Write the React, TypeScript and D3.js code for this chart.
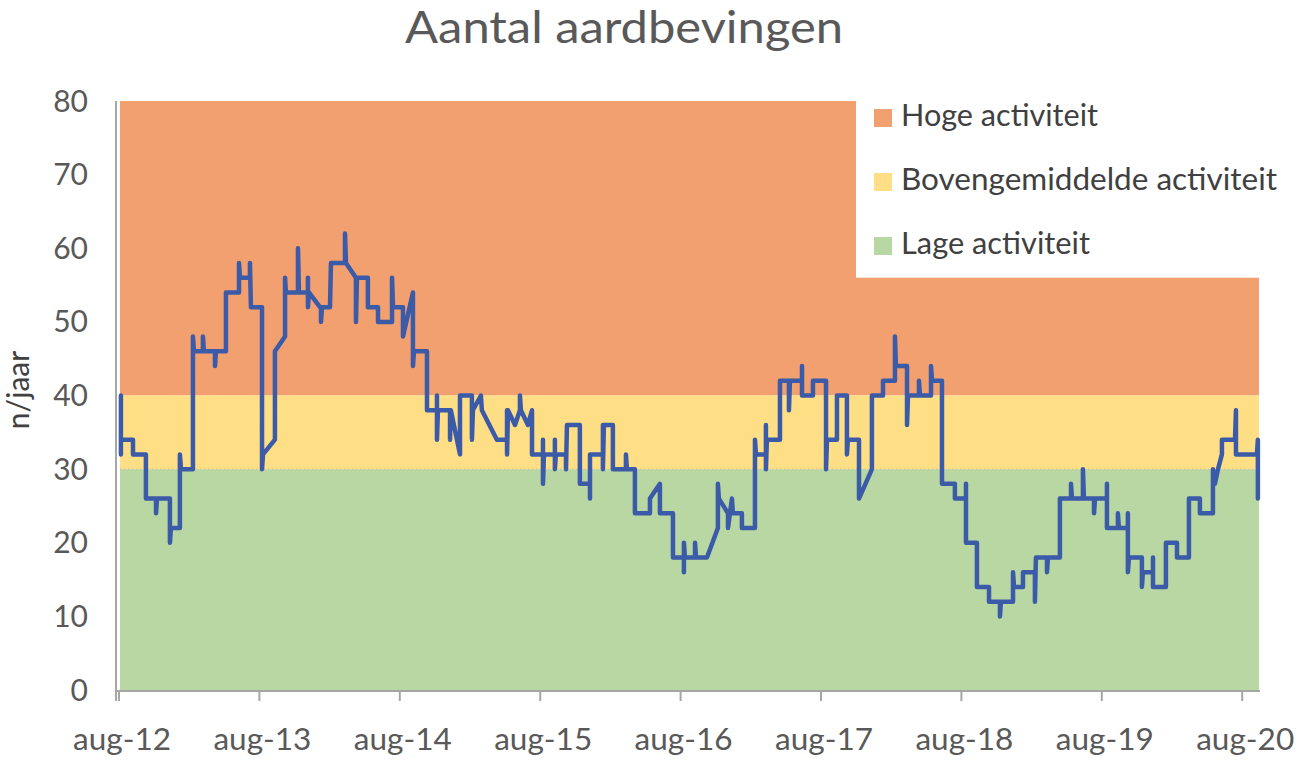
import React from 'react';
import * as d3 from 'd3';

// ---------- data ----------
const chartTitle = 'Aantal aardbevingen';
const yAxisTitle = 'n/jaar';
const yTickValues = [0, 10, 20, 30, 40, 50, 60, 70, 80];
const xTickYears = [2012, 2013, 2014, 2015, 2016, 2017, 2018, 2019, 2020];
const xTickLabels = ['aug-12', 'aug-13', 'aug-14', 'aug-15', 'aug-16', 'aug-17', 'aug-18', 'aug-19', 'aug-20'];

const bandNames = ['Hoge activiteit', 'Bovengemiddelde activiteit', 'Lage activiteit'];
const bandLower = [40, 30, 0];
const bandUpper = [80, 40, 30];

// time as decimal year, value = earthquakes per year
const timeYears = [
  2012.597, 2012.597, 2012.597, 2012.683, 2012.683, 2012.775, 2012.775, 2012.847, 2012.847, 2012.854,
  2012.946, 2012.946, 2012.953, 2013.017, 2013.017, 2013.025, 2013.110, 2013.110, 2013.117, 2013.181,
  2013.181, 2013.188, 2013.267, 2013.267, 2013.274, 2013.345, 2013.345, 2013.438, 2013.438, 2013.445,
  2013.516, 2013.516, 2013.523, 2013.602, 2013.602, 2013.609, 2013.694, 2013.694, 2013.766, 2013.766,
  2013.772, 2013.858, 2013.858, 2013.865, 2013.929, 2013.929, 2013.929, 2013.936, 2014.015, 2014.022,
  2014.022, 2014.029, 2014.086, 2014.093, 2014.193, 2014.193, 2014.200, 2014.271, 2014.271, 2014.278,
  2014.356, 2014.356, 2014.428, 2014.428, 2014.528, 2014.528, 2014.535, 2014.606, 2014.606, 2014.677,
  2014.677, 2014.684, 2014.777, 2014.777, 2014.848, 2014.848, 2014.848, 2014.855, 2014.941, 2014.941,
  2014.947, 2015.012, 2015.012, 2015.097, 2015.097, 2015.104, 2015.161, 2015.168, 2015.275, 2015.347,
  2015.347, 2015.347, 2015.354, 2015.404, 2015.439, 2015.439, 2015.446, 2015.496, 2015.525, 2015.525,
  2015.603, 2015.603, 2015.603, 2015.610, 2015.688, 2015.688, 2015.688, 2015.695, 2015.767, 2015.767,
  2015.774, 2015.866, 2015.866, 2015.938, 2015.938, 2015.938, 2016.030, 2016.030, 2016.030, 2016.037,
  2016.101, 2016.101, 2016.194, 2016.194, 2016.201, 2016.258, 2016.258, 2016.365, 2016.365, 2016.436,
  2016.436, 2016.529, 2016.529, 2016.607, 2016.607, 2016.607, 2016.614, 2016.686, 2016.686, 2016.693,
  2016.771, 2016.849, 2016.849, 2016.856, 2016.921, 2016.921, 2016.949, 2016.956, 2017.020, 2017.020,
  2017.113, 2017.113, 2017.120, 2017.191, 2017.191, 2017.191, 2017.198, 2017.291, 2017.291, 2017.355,
  2017.355, 2017.362, 2017.448, 2017.448, 2017.448, 2017.526, 2017.526, 2017.619, 2017.619, 2017.626,
  2017.697, 2017.697, 2017.768, 2017.768, 2017.775, 2017.854, 2017.854, 2017.946, 2017.946, 2018.025,
  2018.025, 2018.110, 2018.110, 2018.117, 2018.196, 2018.196, 2018.203, 2018.281, 2018.281, 2018.288,
  2018.367, 2018.367, 2018.374, 2018.445, 2018.445, 2018.537, 2018.537, 2018.616, 2018.616, 2018.616,
  2018.694, 2018.694, 2018.780, 2018.780, 2018.858, 2018.858, 2018.865, 2018.951, 2018.951, 2018.958,
  2019.022, 2019.022, 2019.107, 2019.107, 2019.114, 2019.193, 2019.193, 2019.200, 2019.285, 2019.285,
  2019.364, 2019.364, 2019.371, 2019.449, 2019.449, 2019.456, 2019.528, 2019.528, 2019.535, 2019.620,
  2019.620, 2019.620, 2019.698, 2019.698, 2019.705, 2019.769, 2019.769, 2019.769, 2019.777, 2019.869,
  2019.869, 2019.876, 2019.948, 2019.948, 2019.948, 2020.040, 2020.040, 2020.119, 2020.119, 2020.204,
  2020.204, 2020.282, 2020.282, 2020.375, 2020.375, 2020.389, 2020.411, 2020.439, 2020.439, 2020.532,
  2020.539, 2020.539, 2020.688, 2020.695, 2020.695,
];

const quakeCounts = [
  40, 32, 34, 34, 32, 32, 26, 26, 24, 26,
  26, 20, 22, 22, 32, 30, 30, 48, 46, 46,
  48, 46, 46, 44, 46, 46, 54, 54, 58, 56,
  56, 58, 52, 52, 30, 32, 34, 46, 48, 56,
  54, 54, 60, 54, 54, 56, 52, 54, 52, 52,
  50, 52, 52, 58, 58, 62, 58, 56, 50, 56,
  56, 52, 52, 50, 50, 56, 52, 52, 48, 54,
  44, 46, 46, 38, 38, 40, 34, 38, 38, 34,
  38, 32, 40, 40, 34, 38, 40, 38, 34, 34,
  38, 32, 38, 36, 38, 40, 38, 36, 38, 32,
  32, 34, 28, 32, 32, 34, 30, 32, 32, 30,
  36, 36, 28, 28, 26, 32, 32, 36, 30, 36,
  36, 30, 30, 32, 30, 30, 24, 24, 26, 28,
  24, 24, 18, 18, 16, 20, 18, 18, 20, 18,
  18, 22, 28, 26, 24, 22, 26, 24, 24, 22,
  22, 34, 32, 32, 36, 30, 34, 34, 42, 42,
  38, 42, 42, 44, 40, 40, 42, 42, 30, 34,
  34, 40, 40, 32, 34, 34, 26, 30, 40, 40,
  42, 42, 48, 44, 44, 36, 40, 40, 42, 40,
  40, 44, 42, 42, 28, 28, 26, 26, 28, 20,
  20, 14, 14, 12, 12, 10, 12, 12, 16, 14,
  14, 16, 16, 12, 18, 18, 16, 18, 18, 26,
  26, 28, 26, 26, 30, 26, 26, 24, 26, 26,
  28, 22, 22, 24, 22, 22, 24, 16, 18, 18,
  14, 16, 16, 18, 14, 14, 20, 20, 18, 18,
  26, 26, 24, 24, 30, 28, 30, 32, 34, 34,
  38, 32, 32, 34, 26,
];

// ---------- styles ----------
const W = 1299;
const H = 760;
const plot = { left: 119, right: 1259, top: 101, bottom: 690 };
const bandColors = ['#F2A06F', '#FFDF85', '#B9D7A3'];
const lineColor = '#3B5AA8';
const axisColor = '#A6A6A6';
const textColor = '#595959';
const font = 'Lato, sans-serif';

export default function App() {
  const x = d3.scaleLinear().domain([2012 + 7 / 12, 2020.703]).range([plot.left, plot.right]);
  const y = d3.scaleLinear().domain([0, 80]).range([plot.bottom, plot.top]);

  const idx = d3.range(timeYears.length);
  const lineGen = d3
    .line<number>()
    .x((i) => x(timeYears[i]))
    .y((i) => y(quakeCounts[i]));

  const legendTop = y(80);
  const legendBottom = y(56);

  return (
    <svg
      width={W}
      height={H}
      style={{ position: 'absolute', left: 0, top: 0, background: '#fff' }}
      fontFamily={font}
    >
      {/* bands */}
      {bandNames.map((n, i) => (
        <rect
          key={n}
          x={plot.left + 1}
          y={y(bandUpper[i])}
          width={plot.right - plot.left - 1}
          height={y(bandLower[i]) - y(bandUpper[i])}
          fill={bandColors[i]}
        />
      ))}
      <line
        x1={plot.left + 1}
        x2={plot.right}
        y1={y(30)}
        y2={y(30)}
        stroke="#E9A585"
        strokeWidth={1}
        strokeDasharray="1 3"
        opacity={0.7}
      />

      {/* legend box (white, covering top-right of plot) */}
      <rect x={856} y={legendTop - 2} width={W - 856} height={legendBottom - legendTop + 2} fill="#fff" />
      {bandNames.map((n, i) => (
        <g key={n}>
          <rect x={874} y={109 + i * 64} width={18} height={18} fill={bandColors[i]} />
          <text
            x={901}
            y={126 + i * 64}
            fontSize={30}
            fill="#404040"
            textLength={[197, 376, 189][i]}
            lengthAdjust="spacingAndGlyphs"
          >
            {n}
          </text>
        </g>
      ))}

      {/* axes */}
      <line x1={116} x2={116} y1={plot.top} y2={plot.bottom + 11} stroke={axisColor} strokeWidth={2} />
      <line x1={115} x2={plot.right + 1} y1={plot.bottom + 1} y2={plot.bottom + 1} stroke={axisColor} strokeWidth={2} />
      {xTickYears.map((yr, i) => {
        const tx = x(yr + 7 / 12);
        return (
          <g key={yr}>
            <line x1={tx} x2={tx} y1={plot.bottom} y2={plot.bottom + 11} stroke={axisColor} strokeWidth={2} />
            <text
              x={tx + 3}
              y={750}
              fontSize={31}
              fill={textColor}
              textAnchor="middle"
              textLength={98}
              lengthAdjust="spacingAndGlyphs"
            >
              {xTickLabels[i]}
            </text>
          </g>
        );
      })}
      {yTickValues.map((v) => (
        <text key={v} x={88} y={y(v) + 10.5} fontSize={30} fill={textColor} textAnchor="end">
          {v}
        </text>
      ))}

      {/* series line */}
      <path
        d={lineGen(idx) || ''}
        fill="none"
        stroke={lineColor}
        strokeWidth={4.5}
        strokeLinejoin="round"
        strokeLinecap="round"
      />

      {/* titles */}
      <text
        x={624}
        y={43}
        fontSize={44}
        fill={textColor}
        textAnchor="middle"
        textLength={438}
        lengthAdjust="spacingAndGlyphs"
      >
        {chartTitle}
      </text>
      <text
        transform={`translate(29, 390) rotate(-90)`}
        fontSize={30}
        fill="#404040"
        textAnchor="middle"
      >
        {yAxisTitle}
      </text>
    </svg>
  );
}
